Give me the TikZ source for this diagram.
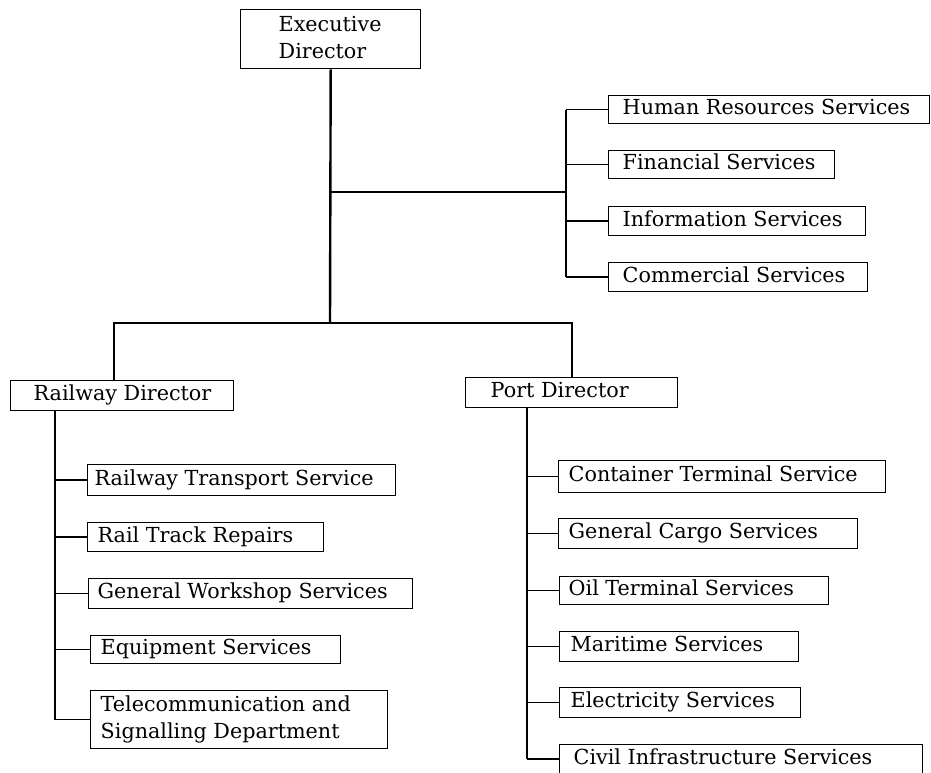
\documentclass[tikz,border=0pt]{standalone}
\usepackage{fontspec}
\setmainfont{DejaVu Serif}
\begin{document}
\begin{tikzpicture}[x=1pt,y=-1pt,
  box/.style={draw, line width=1.4pt, anchor=north west, align=left,
    inner ysep=0pt, font=\fontsize{20.7}{27}\selectfont},
  oneline/.style={text height=15pt, text depth=5pt},
  spine/.style={line width=2.4pt},
  tick/.style={line width=1.5pt}]
% one-line unit: name, left, top, right, bottom, left padding, label
\newcommand\unitbox[7]{%
  \node[box,oneline,inner xsep=#6pt,minimum height={(#5-#3)*1pt}] (#1) at (#2,#3)
    {\makebox[\dimexpr #4pt-#2pt-#6pt-#6pt\relax][l]{#7}};}
% two-line unit
\newcommand\twobox[7]{%
  \node[box,inner xsep=#6pt,minimum height={(#5-#3)*1pt}] (#1) at (#2,#3)
    {\makebox[\dimexpr #4pt-#2pt-#6pt-#6pt\relax][l]{\begin{tabular}{@{}l@{}}#7\end{tabular}}};}

\fill[white] (0,0) rectangle (931,772);
\useasboundingbox (0,0) rectangle (931,772);

% top level
\twobox{exec}{240}{9}{420}{68}{38}{Executive\\Director}

% staff services
\unitbox{hr}{608}{95}{929}{123}{14}{Human Resources Services}
\unitbox{fin}{608}{150}{834}{178}{14}{Financial Services}
\unitbox{info}{608}{206}{865}{235}{14}{Information Services}
\unitbox{comm}{608}{262}{867}{291}{14}{Commercial Services}

% directors
\unitbox{rail}{10}{380}{233}{410}{23}{Railway Director}
\unitbox{port}{465}{377}{677}{407}{25}{Port Director}

% railway units
\unitbox{rts}{87}{464}{395}{495}{7}{Railway Transport Service}
\unitbox{rtr}{87}{522}{323}{551}{10}{Rail Track Repairs}
\unitbox{gws}{88}{578}{412}{608}{9}{General Workshop Services}
\unitbox{eqs}{90}{635}{340}{663}{10}{Equipment Services}
\twobox{tel}{90}{690}{387}{748}{10}{Telecommunication and\\Signalling Department}

% port units
\unitbox{cts}{558}{460}{885}{492}{10}{Container Terminal Service}
\unitbox{gcs}{558}{518}{857}{548}{10}{General Cargo Services}
\unitbox{ots}{559}{576}{828}{604}{9}{Oil Terminal Services}
\unitbox{mar}{559}{631}{798}{661}{11}{Maritime Services}
\unitbox{ele}{559}{687}{800}{717}{11}{Electricity Services}
\unitbox{civ}{559}{744}{922}{773}{14}{Civil Infrastructure Services}

% junctions
\coordinate (hub) at (330,323);
\coordinate (staff) at (330,192);
\coordinate (bx) at (566,0);
\coordinate (rx) at (114,0);
\coordinate (rs) at (55,0);
\coordinate (ps) at (527,0);

% main trunk
\draw[spine] (exec.south) -- (hub);
\draw[tick] (staff) -- (staff -| bx);
\draw[line width=1.6pt] (rail.north -| rx) |- (hub) -| (port.north);

% staff bracket
\draw[spine] (hr.west -| bx) -- (comm.west -| bx);
\foreach \n in {hr,fin,info,comm} \draw[tick] (\n.west -| bx) -- (\n.west);

% railway branch
\draw[spine] (rail.south -| rs) -- (tel.west -| rs);
\foreach \n in {rts,rtr,gws,eqs,tel} \draw[tick] (\n.west -| rs) -- (\n.west);

% port branch
\draw[spine] (port.south -| ps) -- (civ.west -| ps);
\foreach \n in {cts,gcs,ots,mar,ele,civ} \draw[tick] (\n.west -| ps) -- (\n.west);
\end{tikzpicture}
\end{document}
